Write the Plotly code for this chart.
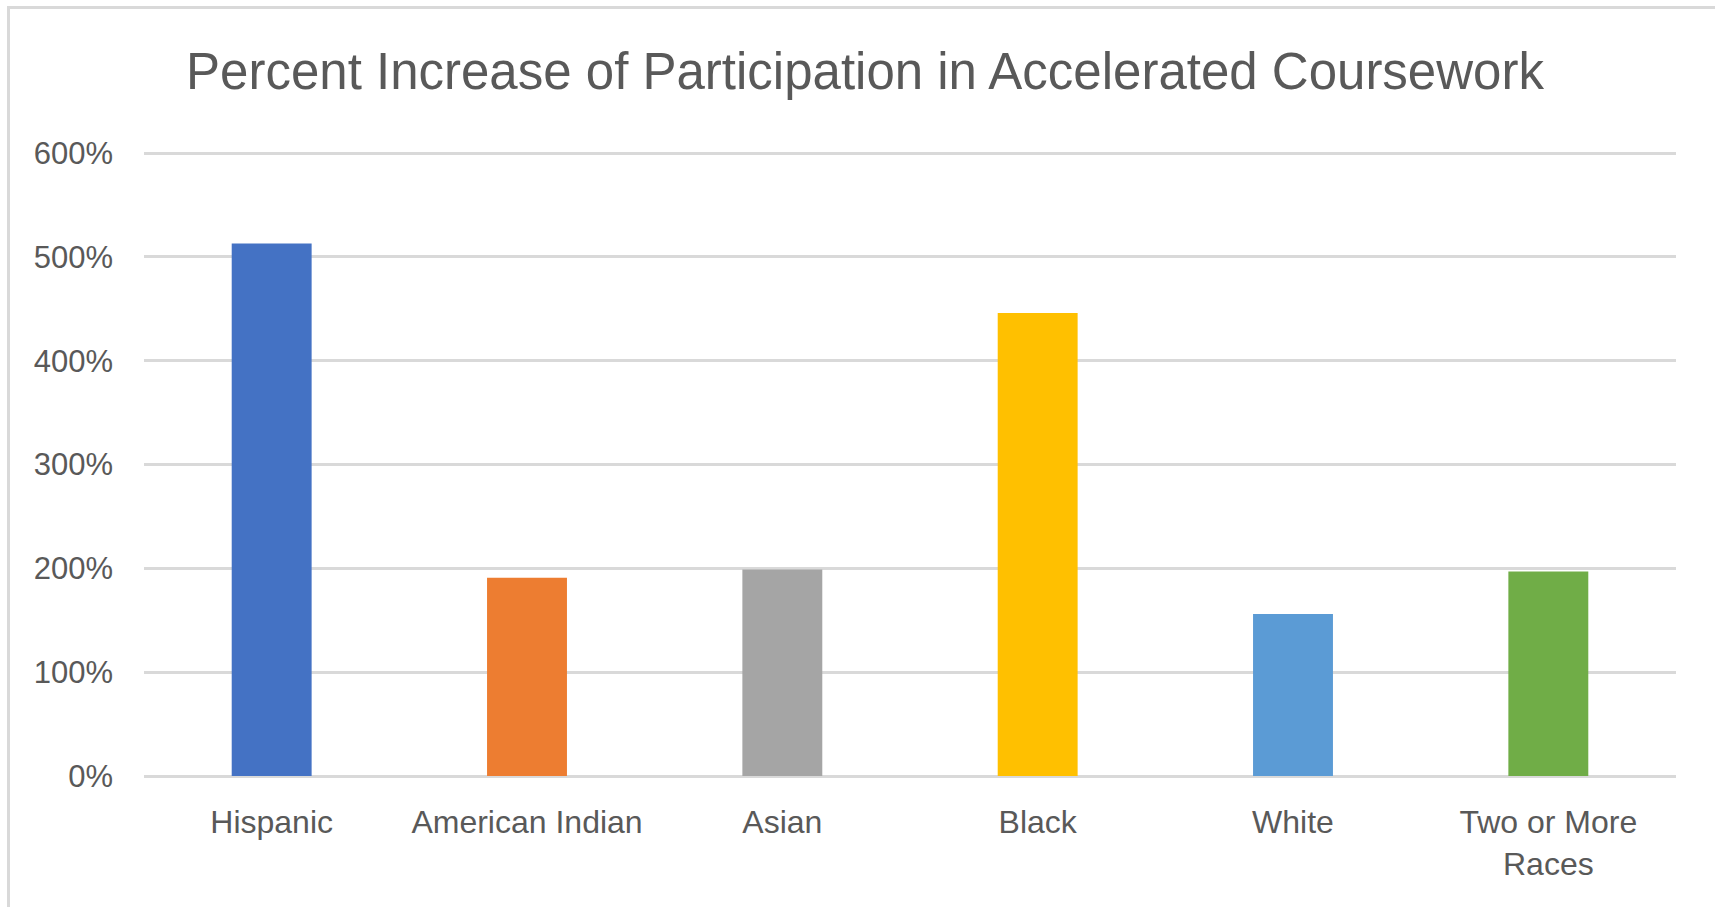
import plotly.graph_objects as go

categories = ["Hispanic", "American Indian", "Asian", "Black", "White", "Two or More<br>Races"]
values = [513, 191, 199, 446, 156, 197]
colors = ["#4472C4", "#ED7D31", "#A5A5A5", "#FFC000", "#5B9BD5", "#70AD47"]
y_ticks = [0, 100, 200, 300, 400, 500, 600]
y_ticklabels = [f"{v}%" for v in y_ticks]
title_text = "Percent Increase of Participation in Accelerated Coursework"

W, H = 1715, 907
L, R, T, B = 144, 39, 150, 131
pw, ph = W - L - R, H - T - B
y_top = 603

def px_x(px):
    return (px - L) / pw

def px_y(py):
    return (H - B - py) / ph

fig = go.Figure(go.Bar(
    x=categories, y=values, marker_color=colors, marker_line_width=0,
    width=0.313,
))

font_family = "Liberation Sans, Arial, sans-serif"
fig.update_layout(
    width=W, height=H,
    margin=dict(l=L, r=R, t=T, b=B, pad=0),
    paper_bgcolor="white", plot_bgcolor="white",
    showlegend=False,
    title=dict(text=title_text, x=865 / W, xanchor="center", y=1 - 71 / H, yanchor="middle",
               font=dict(family=font_family, size=51, color="#595959")),
    font=dict(family=font_family, color="#595959"),
)
fig.update_yaxes(range=[0, y_top], tickvals=y_ticks, ticktext=y_ticklabels,
                 showgrid=True, gridcolor="#D9D9D9", gridwidth=3,
                 zeroline=True, zerolinecolor="#D9D9D9", zerolinewidth=3,
                 showline=False, ticks="", ticklabelstandoff=30,
                 tickfont=dict(size=31, color="#595959"))
fig.update_xaxes(showgrid=False, showline=False, ticks="", ticklabelstandoff=24,
                 tickfont=dict(size=32, color="#595959"))

# chart frame (top and left edges visible)
fig.add_shape(type="line", xref="paper", yref="paper",
              x0=px_x(7), x1=px_x(W + 5), y0=px_y(7.5), y1=px_y(7.5),
              line=dict(color="#D9D9D9", width=3))
fig.add_shape(type="line", xref="paper", yref="paper",
              x0=px_x(8.5), x1=px_x(8.5), y0=px_y(6), y1=px_y(H + 5),
              line=dict(color="#D9D9D9", width=3))

fig.write_html("out.html", config={"displayModeBar": False},
               post_script="document.body.style.margin='0';document.body.style.overflow='hidden';")
